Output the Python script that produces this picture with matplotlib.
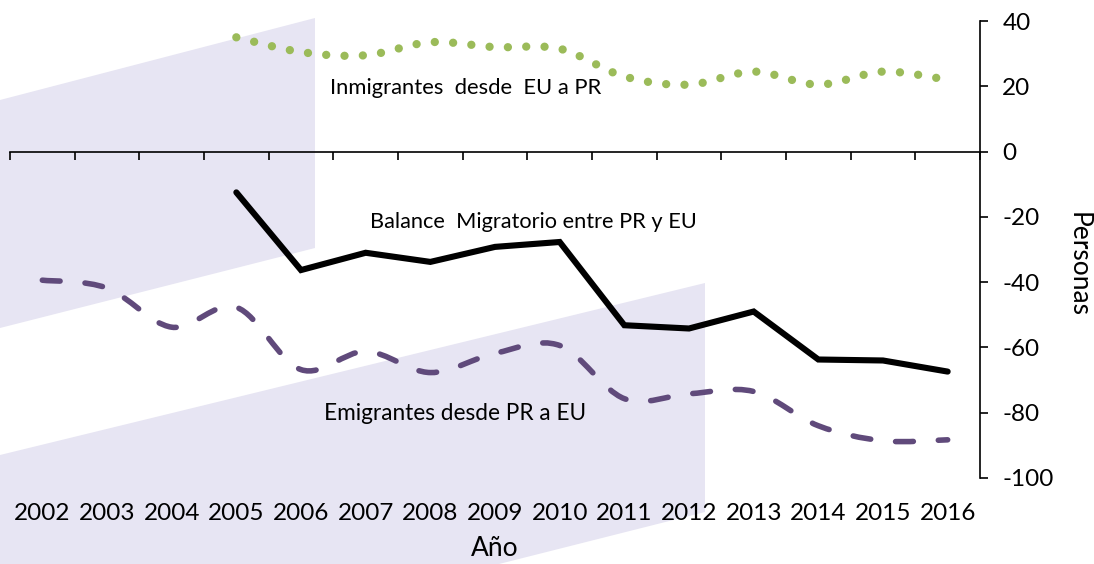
import numpy as np
import matplotlib
matplotlib.use("Agg")
import matplotlib.pyplot as plt
from matplotlib.path import Path
from matplotlib.patches import PathPatch, Polygon

plt.rcParams['font.family'] = ['Lato', 'DejaVu Sans']

years = ['2002', '2003', '2004', '2005', '2006', '2007', '2008', '2009',
         '2010', '2011', '2012', '2013', '2014', '2015', '2016']
inmigrantes = [35.0, 30.5, 29.5, 33.5, 32.0, 31.5, 23.0, 20.5, 24.5, 20.5, 24.5, 22.0]  # 2005-2016
emigrantes = [-39.4, -41.8, -53.8, -47.7, -66.8, -61.2, -67.7, -61.8, -59.4,
              -75.7, -74.2, -73.5, -84.0, -88.6, -88.3]  # 2002-2016
balance = [-12.5, -36.3, -31.0, -33.8, -29.2, -27.7, -53.2, -54.2, -49.0,
           -63.7, -64.0, -67.4]  # 2005-2016
yticks = [-100, -80, -60, -40, -20, 0, 20, 40]

W, H = 1094, 564
fig = plt.figure(figsize=(W / 100, H / 100), dpi=100)
ax = fig.add_axes([10 / W, 1 - 478 / H, 970 / W, 457 / H])
ax.set_facecolor('none')

# decorative background shapes (figure pixel coords)
lav = '#E7E5F3'
def fig_poly(pts):
    return Polygon([(x / W, 1 - y / H) for x, y in pts], closed=True,
                   transform=fig.transFigure, facecolor=lav, edgecolor='none', zorder=-1)
fig.add_artist(fig_poly([(0, 100), (315, 18), (315, 248), (0, 328)]))
fig.add_artist(fig_poly([(0, 455), (705, 283), (705, 512), (0, 690)]))


def smooth_path(xs, ys):
    pts = np.column_stack([xs, ys]).astype(float)
    n = len(pts)
    verts = [pts[0]]
    codes = [Path.MOVETO]
    for i in range(n - 1):
        p0 = pts[max(i - 1, 0)]
        p1 = pts[i]
        p2 = pts[i + 1]
        p3 = pts[min(i + 2, n - 1)]
        c1 = p1 + (p2 - p0) / 6.0
        c2 = p2 - (p3 - p1) / 6.0
        verts += [c1, c2, p2]
        codes += [Path.CURVE4] * 3
    return Path(verts, codes)

x_all = np.arange(len(years))
x_late = x_all[3:]

# green dotted smoothed line
green = PathPatch(smooth_path(x_late, inmigrantes), fill=False, edgecolor='#9BBB59',
                  linewidth=6.0, linestyle=(0, (0.001, 2.2)), capstyle='round', zorder=3)
ax.add_patch(green)

# purple dashed smoothed line
purple = PathPatch(smooth_path(x_all, emigrantes), fill=False, edgecolor='#604A7B',
                   linewidth=4.0, linestyle=(0, (3.2, 4.5)), capstyle='round', zorder=3)
ax.add_patch(purple)

# black balance line
ax.plot(x_late, balance, color='black', linewidth=4.4, solid_capstyle='round',
        solid_joinstyle='miter', zorder=4)

ax.set_xlim(-0.5, 14.5)
ax.set_ylim(-100, 40)

# spines
for s in ['left', 'top']:
    ax.spines[s].set_visible(False)
ax.spines['bottom'].set_position(('data', 0))
ax.spines['bottom'].set_linewidth(1.2)
ax.spines['right'].set_linewidth(1.2)

ax.set_xticks(np.arange(-0.5, 15, 1))
ax.set_xticklabels([])
ax.tick_params(axis='x', direction='out', length=6, width=1.2, color='black')

ax.yaxis.tick_right()
ax.set_yticks(yticks)
ax.set_yticklabels([str(v) for v in yticks])
ax.tick_params(axis='y', direction='out', length=6, width=1.2, labelsize=17.5, pad=10)
ax.yaxis.set_label_position('right')
ax.set_ylabel('Personas', rotation=-90, fontsize=19, va='center', ha='center')
ax.yaxis.set_label_coords((1078 - 10) / 970, (478 - 265) / 457)

sec = ax.secondary_xaxis(0)
sec.set_xticks(x_all)
sec.set_xticklabels(years, fontsize=17.5)
sec.tick_params(length=0, pad=18)
sec.spines['bottom'].set_visible(False)
sec.set_xlabel('Año', fontsize=19, labelpad=9)

ax.text(6.55, 19.5, 'Inmigrantes  desde  EU a PR', fontsize=15.8, ha='center', va='center')
ax.text(7.59, -21.6, 'Balance  Migratorio entre PR y EU', fontsize=15.7, ha='center', va='center')
ax.text(6.38, -80.1, 'Emigrantes desde PR a EU', fontsize=16.3, ha='center', va='center')

fig.savefig('out.png', dpi=100)
